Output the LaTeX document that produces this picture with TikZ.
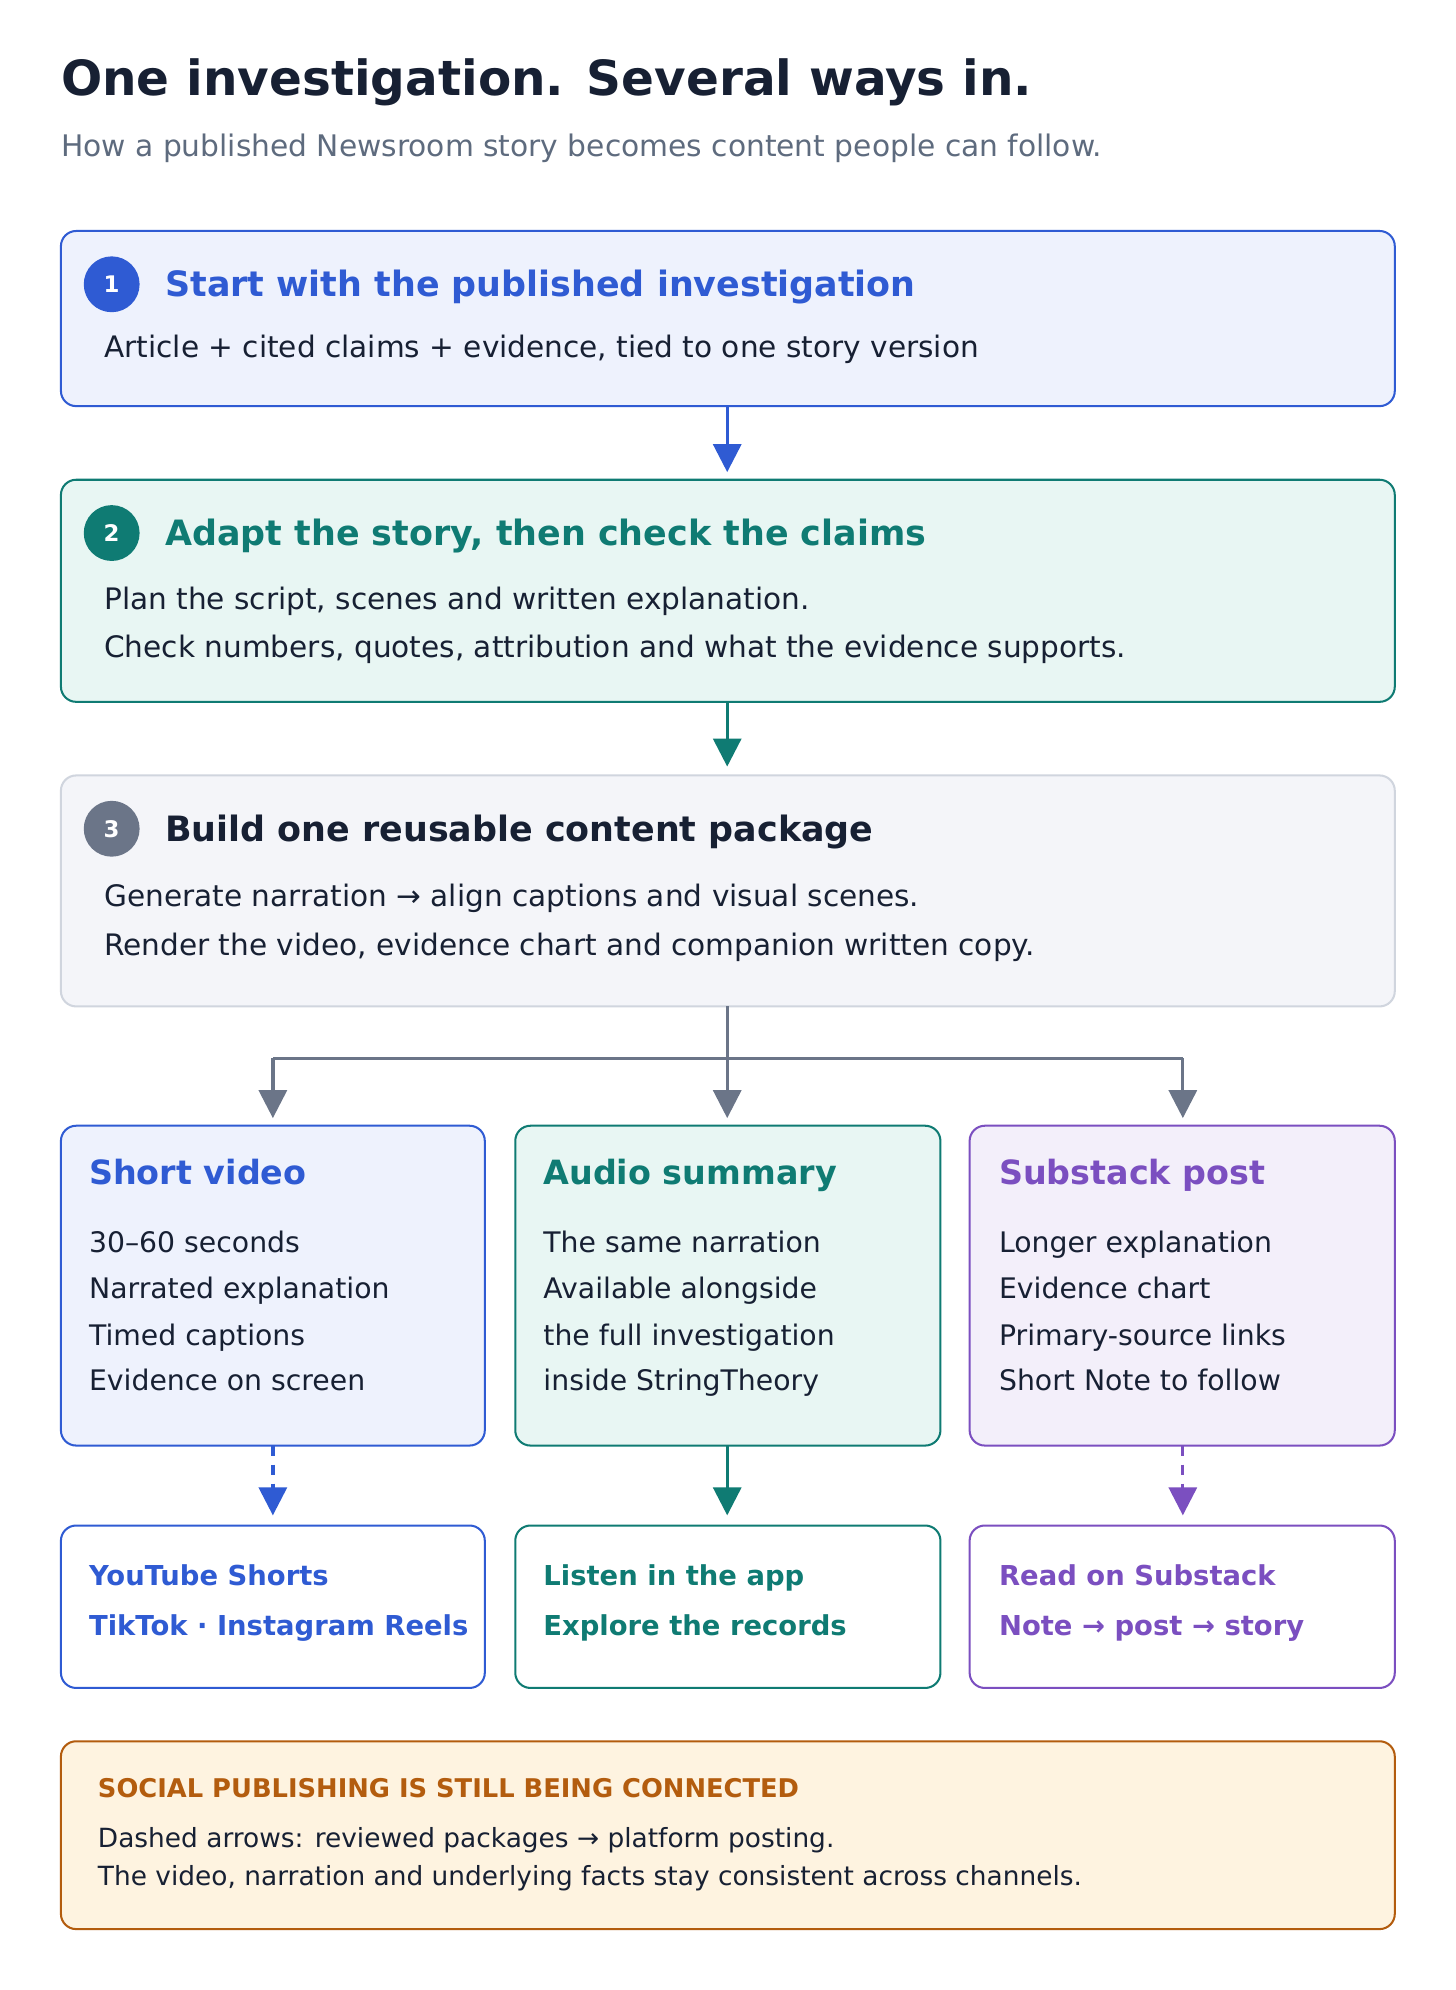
\documentclass[tikz,border=0pt]{standalone}
\usepackage{fontspec}
\setmainfont{DejaVu Sans}
\newcommand{\ra}{→}
\usetikzlibrary{arrows.meta}
\definecolor{ink}{HTML}{172033}
\definecolor{sub}{HTML}{5E6B7E}
\definecolor{cb}{HTML}{2F5BD3}\definecolor{fb}{HTML}{EEF2FD}
\definecolor{ct}{HTML}{0F7B73}\definecolor{ft}{HTML}{E8F6F3}
\definecolor{cg}{HTML}{6B7588}\definecolor{fg}{HTML}{F4F5F9}\definecolor{bg}{HTML}{D0D5DE}
\definecolor{cp}{HTML}{7B4FC0}\definecolor{fp}{HTML}{F3EFFA}
\definecolor{co}{HTML}{B35C0E}\definecolor{fo}{HTML}{FEF3E0}
\tikzset{
 box/.style={rounded corners=12pt,line width=1.6pt},
 txt/.style={anchor=base west,inner sep=0pt,font=\fontsize{22.3}{23}\selectfont,text=ink},
 btxt/.style={anchor=base west,inner sep=0pt,font=\fontsize{23.3}{23}\selectfont,text=ink},
 head/.style={anchor=base west,inner sep=0pt,font=\fontsize{27.5}{30}\selectfont\bfseries},
 chead/.style={anchor=base west,inner sep=0pt,font=\fontsize{26.3}{28}\selectfont\bfseries},
 bold/.style={anchor=base west,inner sep=0pt,font=\fontsize{21.6}{23}\selectfont\bfseries},
 num/.style={circle,minimum size=44pt,inner sep=0pt,text=white,font=\fontsize{18}{20}\selectfont\bfseries},
 arr/.style={line width=2.6pt,-{Triangle[width=22pt,length=22pt]}},
}
\begin{document}
\begin{tikzpicture}[x=1pt,y=-1pt]
\useasboundingbox[fill=white] (0,0) rectangle (1147,1568);
\node[anchor=base west,inner sep=0pt,font=\fontsize{38.2}{42}\selectfont\bfseries,text=ink] (title) at (48,75) {One investigation. Several ways in.};
\node[anchor=base west,inner sep=0pt,font=\fontsize{23.4}{23}\selectfont,text=sub] (subt) at (48,123) {How a published Newsroom story becomes content people can follow.};
% box 1
\draw[box,draw=cb,fill=fb] (48,182) rectangle (1099,320);
\coordinate (b1s) at (573,320);
\node[num,fill=cb] (n1) at (88,224) {1};
\node[head,text=cb] (h1) at (130,234) {Start with the published investigation};
\node[btxt] (t1) at (82,282) {Article + cited claims + evidence, tied to one story version};
% box 2
\draw[box,draw=ct,fill=ft] (48,378) rectangle (1099,553);
\coordinate (b2n) at (573,372);\coordinate (b2s) at (573,553);
\node[num,fill=ct] (n2) at (88,420) {2};
\node[head,text=ct] (h2) at (130,430) {Adapt the story, then check the claims};
\node[btxt] (t2a) at (82,480) {Plan the script, scenes and written explanation.};
\node[btxt] (t2b) at (82,518) {Check numbers, quotes, attribution and what the evidence supports.};
% box 3
\draw[box,draw=bg,fill=fg] (48,611) rectangle (1099,793);
\coordinate (b3n) at (573,604);\coordinate (b3s) at (573,793);
\node[num,fill=cg] (n3) at (88,653) {3};
\node[head,text=ink] (h3) at (130,663) {Build one reusable content package};
\node[btxt] (t3a) at (82,714) {Generate narration \ra{} align captions and visual scenes.};
\node[btxt] (t3b) at (82,753) {Render the video, evidence chart and companion written copy.};
\draw[arr,cb] (b1s) -- (b2n);
\draw[arr,ct] (b2s) -- (b3n);
% branch
\coordinate (j) at (573,834);\coordinate (jl) at (215,834);\coordinate (jr) at (932,834);
\coordinate (al) at (215,881);\coordinate (am) at (573,881);\coordinate (ar) at (932,881);
\draw[line width=2.6pt,cg] (b3s) -- (j);
\draw[line width=2.6pt,cg] (jl) -- (jr);
\draw[arr,cg] (jl) -- (al);\draw[arr,cg] (j) -- (am);\draw[arr,cg] (jr) -- (ar);
% cards
\draw[box,draw=cb,fill=fb] (48,887) rectangle (382,1139);
\draw[box,draw=ct,fill=ft] (406,887) rectangle (741,1139);
\draw[box,draw=cp,fill=fp] (764,887) rectangle (1099,1139);
\node[chead,text=cb] at (70,933) {Short video};
\node[chead,text=ct] at (428,933) {Audio summary};
\node[chead,text=cp] at (787,933) {Substack post};
\foreach \x/\a/\b/\c/\d in {70/30–60 seconds/Narrated explanation/Timed captions/Evidence on screen,
 428/The same narration/Available alongside/the full investigation/inside StringTheory,
 787/Longer explanation/Evidence chart/Primary-source links/Short Note to follow}{
 \node[txt] at (\x,987) {\a};\node[txt] at (\x,1023) {\b};
 \node[txt] at (\x,1060) {\c};\node[txt] at (\x,1096) {\d};}
% arrows down
\draw[arr,cb,dash pattern=on 8pt off 7pt] (215,1139) -- (215,1194);
\draw[arr,ct] (573,1139) -- (573,1194);
\draw[arr,cp,dash pattern=on 8pt off 7pt] (932,1139) -- (932,1194);
% bottom
\draw[box,draw=cb,fill=white] (48,1202) rectangle (382,1330);
\draw[box,draw=ct,fill=white] (406,1202) rectangle (741,1330);
\draw[box,draw=cp,fill=white] (764,1202) rectangle (1099,1330);
\node[bold,text=cb] at (70,1249) {YouTube Shorts};
\node[bold,text=cb] at (70,1289) {TikTok · Instagram Reels};
\node[bold,text=ct] at (428,1249) {Listen in the app};
\node[bold,text=ct] at (428,1289) {Explore the records};
\node[bold,text=cp] at (787,1249) {Read on Substack};
\node[bold,text=cp] at (787,1289) {Note \ra{} post \ra{} story};
% note
\draw[box,draw=co,fill=fo] (48,1372) rectangle (1099,1520);
\node[anchor=base west,inner sep=0pt,font=\fontsize{20.3}{20}\selectfont\bfseries,text=co] at (77,1416) {SOCIAL PUBLISHING IS STILL BEING CONNECTED};
\node[anchor=base west,inner sep=0pt,font=\fontsize{20.8}{21}\selectfont,text=ink] at (77,1456) {Dashed arrows: reviewed packages \ra{} platform posting.};
\node[anchor=base west,inner sep=0pt,font=\fontsize{20.8}{21}\selectfont,text=ink] at (77,1486) {The video, narration and underlying facts stay consistent across channels.};
\end{tikzpicture}
\end{document}
